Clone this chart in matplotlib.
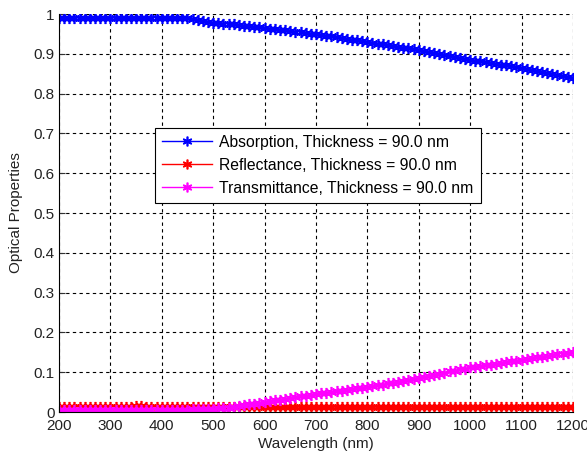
import numpy as np
import matplotlib.pyplot as plt

plt.rcParams['font.family'] = ['Liberation Sans', 'DejaVu Sans']

# wavelength grid (nm), every 10 nm
wavelength = np.arange(200, 1201, 10)

absorption = [
    0.990, 0.990, 0.990, 0.990, 0.990, 0.990, 0.990, 0.990, 0.990, 0.990,  # 200-290
    0.990, 0.990, 0.990, 0.990, 0.991, 0.991, 0.991, 0.991, 0.991, 0.991,  # 300-390
    0.991, 0.991, 0.991, 0.990, 0.990, 0.990, 0.988, 0.985, 0.982, 0.980,  # 400-490
    0.978, 0.977, 0.976, 0.975, 0.974, 0.973, 0.971, 0.970, 0.968, 0.967,  # 500-590
    0.965, 0.963, 0.962, 0.960, 0.959, 0.957, 0.956, 0.955, 0.953, 0.951,  # 600-690
    0.950, 0.948, 0.946, 0.944, 0.942, 0.940, 0.938, 0.936, 0.934, 0.932,  # 700-790
    0.930, 0.928, 0.926, 0.924, 0.922, 0.920, 0.918, 0.916, 0.914, 0.912,  # 800-890
    0.910, 0.907, 0.905, 0.902, 0.900, 0.897, 0.895, 0.892, 0.890, 0.887,  # 900-990
    0.885, 0.883, 0.881, 0.879, 0.877, 0.875, 0.873, 0.871, 0.869, 0.867,  # 1000-1090
    0.865, 0.862, 0.860, 0.857, 0.855, 0.852, 0.850, 0.847, 0.845, 0.842,  # 1100-1190
    0.840,                                                                 # 1200
]

reflectance = [
    0.013, 0.013, 0.013, 0.013, 0.013, 0.013, 0.013, 0.013, 0.013, 0.013,
    0.013, 0.013, 0.013, 0.013, 0.013, 0.014, 0.014, 0.013, 0.013, 0.013,
    0.012, 0.012, 0.012, 0.012, 0.012, 0.012, 0.012, 0.012, 0.012, 0.012,
    0.012, 0.012, 0.012, 0.012, 0.012, 0.012, 0.012, 0.012, 0.012, 0.012,
    0.012, 0.012, 0.012, 0.012, 0.012, 0.012, 0.012, 0.012, 0.012, 0.012,
    0.012, 0.012, 0.012, 0.012, 0.012, 0.012, 0.012, 0.012, 0.012, 0.012,
    0.012, 0.012, 0.012, 0.012, 0.012, 0.012, 0.012, 0.012, 0.012, 0.012,
    0.012, 0.012, 0.012, 0.012, 0.012, 0.012, 0.012, 0.012, 0.012, 0.012,
    0.012, 0.012, 0.012, 0.012, 0.012, 0.012, 0.012, 0.012, 0.012, 0.012,
    0.012, 0.012, 0.012, 0.012, 0.012, 0.012, 0.012, 0.012, 0.012, 0.012,
    0.012,
]

transmittance = [
    0.005, 0.005, 0.005, 0.005, 0.005, 0.005, 0.005, 0.005, 0.005, 0.005,
    0.005, 0.005, 0.005, 0.005, 0.005, 0.006, 0.006, 0.006, 0.006, 0.006,
    0.006, 0.006, 0.006, 0.006, 0.006, 0.006, 0.007, 0.007, 0.007, 0.008,
    0.008, 0.009, 0.010, 0.011, 0.013, 0.015, 0.017, 0.019, 0.021, 0.023,
    0.025, 0.027, 0.029, 0.031, 0.033, 0.035, 0.037, 0.039, 0.041, 0.043,
    0.045, 0.047, 0.049, 0.050, 0.052, 0.054, 0.056, 0.058, 0.060, 0.061,
    0.063, 0.065, 0.067, 0.069, 0.072, 0.074, 0.076, 0.079, 0.081, 0.084,
    0.086, 0.089, 0.091, 0.094, 0.096, 0.099, 0.102, 0.104, 0.107, 0.109,
    0.112, 0.114, 0.116, 0.118, 0.119, 0.121, 0.123, 0.125, 0.127, 0.129,
    0.131, 0.133, 0.135, 0.137, 0.139, 0.141, 0.143, 0.145, 0.147, 0.149,
    0.152,
]

thickness = 90.0

fig = plt.figure(figsize=(5.87, 4.55), dpi=100)
ax = fig.add_axes([0.1005, 0.0945, 0.8755, 0.8745])

# MATLAB-style asterisk marker
star = (6, 2, 0)
ax.plot(wavelength, absorption, color='#0000ff', marker=star, markersize=8,
        markeredgewidth=1.2, linewidth=1,
        label=f'Absorption, Thickness = {thickness:.1f} nm')
ax.plot(wavelength, reflectance, color='#ff0000', marker=star, markersize=8,
        markeredgewidth=1.2, linewidth=1,
        label=f'Reflectance, Thickness = {thickness:.1f} nm')
ax.plot(wavelength, transmittance, color='#ff00ff', marker=star, markersize=8,
        markeredgewidth=1.2, linewidth=1,
        label=f'Transmittance, Thickness = {thickness:.1f} nm')

ax.set_xlim(200, 1200)
ax.set_ylim(0, 1)
ax.set_xticks(np.arange(200, 1201, 100))
ax.set_yticks(np.arange(0, 1.01, 0.1))
ax.set_yticklabels(['0', '0.1', '0.2', '0.3', '0.4', '0.5', '0.6', '0.7', '0.8', '0.9', '1'])
ax.tick_params(direction='in', length=4, labelsize=11, color='#333333',
               labelcolor='#222222')
ax.tick_params(axis='x', pad=5)
ax.tick_params(axis='y', pad=3)
ax.set_xlabel('Wavelength (nm)', fontsize=11, labelpad=3, color='#222222')
ax.set_ylabel('Optical Properties', fontsize=11, labelpad=8, color='#222222')

for side in ('top', 'right'):
    ax.spines[side].set_visible(False)
ax.grid(True, color='black', linestyle=(0, (3, 3)), linewidth=0.8)
ax.set_axisbelow(True)

leg = ax.legend(loc='upper left', bbox_to_anchor=(0.187, 0.714), fontsize=11.3,
                fancybox=False, framealpha=1, edgecolor='black',
                handlelength=3.2, handletextpad=0.45, borderpad=0.45,
                labelspacing=0.5, borderaxespad=0)
leg.get_frame().set_linewidth(0.8)
for h in leg.get_lines():
    h.set_markersize(7)

fig.savefig('out.png', dpi=100)
